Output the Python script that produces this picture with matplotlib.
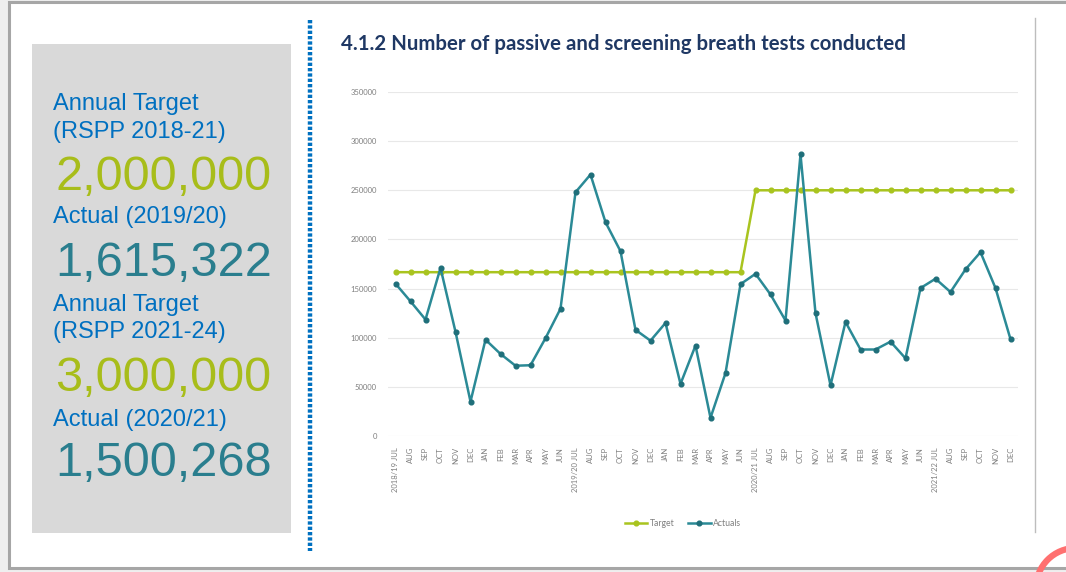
import matplotlib.pyplot as plt
from matplotlib.patches import Rectangle, Circle
from matplotlib.lines import Line2D

# ==========================
# DATA
# ==========================
fin_years = ["2018/19", "2019/20", "2020/21", "2021/22"]
months = ["JUL", "AUG", "SEP", "OCT", "NOV", "DEC",
          "JAN", "FEB", "MAR", "APR", "MAY", "JUN"]

actuals = [155000, 137000, 118500, 171000, 106000, 35000,
           98000, 83500, 71500, 72000, 99500, 129500,
           248000, 266000, 217500, 188000, 108000, 97000,
           115000, 53000, 92000, 18500, 64000, 154500,
           165000, 144000, 117500, 286500, 125000, 51500,
           116000, 88000, 88000, 96000, 79000, 150500,
           160000, 146500, 169500, 187000, 150500, 98500]
target = [166667] * 24 + [250000] * 18

y_ticks = [0, 50000, 100000, 150000, 200000, 250000, 300000, 350000]

side_labels = ["Annual Target", "(RSPP 2018-21)", "Actual (2019/20)",
               "Annual Target", "(RSPP 2021-24)", "Actual (2020/21)"]
side_values = ["2,000,000", "1,615,322", "3,000,000", "1,500,268"]

title = "4.1.2 Number of passive and screening breath tests conducted"

# labels for x axis
x_labels = []
for i in range(len(actuals)):
    m = months[i % 12]
    if i % 12 == 0:
        m = fin_years[i // 12] + " " + m
    x_labels.append(m)

# ==========================
# FIGURE
# ==========================
W, H = 1066, 572
fig = plt.figure(figsize=(W / 100, H / 100), dpi=100)
fig.patch.set_facecolor("#efefef")


def fx(px):
    return px / W


def fy(py):
    return 1 - py / H


def box(x0, y0, x1, y1, **kw):
    fig.add_artist(Rectangle((fx(x0), fy(y1)), fx(x1) - fx(x0), fy(y0) - fy(y1),
                             transform=fig.transFigure, zorder=-10, **kw))


# page frame
box(9, 2, 1075, 568, facecolor="white", edgecolor="#a6a6a6", linewidth=2.2)
# grey info box
box(32, 44, 291, 533, facecolor="#d9d9d9", edgecolor="none")
# dotted divider
fig.add_artist(Line2D([fx(310), fx(310)], [fy(20), fy(551)], transform=fig.transFigure,
                      color="#0070c0", linewidth=3.2, dashes=(0.75, 0.45),
                      solid_capstyle="butt", dash_capstyle="butt"))
# right thin divider
fig.add_artist(Line2D([fx(1035), fx(1035)], [fy(18), fy(532)], transform=fig.transFigure,
                      color="#bdbdbd", linewidth=1.0))
# red ring bottom right (circle in pixel units so it stays round)
fig.add_artist(Circle((1076, H - 588), 40, transform=None,
                      facecolor="none", edgecolor="#ff7070", linewidth=4.5, zorder=5))

# side texts (baselines in pixels)
lab_base = [110, 138, 223, 311, 338, 426]
val_base = [190, 276, 391, 476]
val_cols = ["#a8bd1a", "#2a7e8e", "#a8bd1a", "#2a7e8e"]
for lab, b in zip(side_labels, lab_base):
    fig.text(fx(53), fy(b), lab, fontsize=17, color="#0070c0", family="Liberation Sans",
             va="baseline", ha="left")
for val, b, col in zip(side_values, val_base, val_cols):
    fig.text(fx(55), fy(b), val, fontsize=35, color=col, family="Liberation Sans",
             va="baseline", ha="left")

fig.text(fx(341), fy(44), title, fontsize=14.7, fontweight="bold", color="#1f3864",
         family="Lato", va="center", ha="left")

# ==========================
# CHART
# ==========================
ax = fig.add_axes([fx(388), fy(436), fx(1018) - fx(388), fy(92) - fy(436)])
ax.set_facecolor("white")
x = list(range(len(actuals)))
ax.plot(x, target, color="#a9c41f", linewidth=1.8, marker="o", markersize=3.4, label="Target")
ax.plot(x, actuals, color="#2b8a96", linewidth=1.8, marker="o", markersize=3.4,
        markerfacecolor="#1f6f7a", markeredgecolor="#1f6f7a", label="Actuals")

ax.set_xlim(-0.5, len(actuals) - 0.5)
ax.set_ylim(0, 350000)
ax.set_yticks(y_ticks)
ax.set_yticklabels([str(v) for v in y_ticks], fontsize=5.5, color="#7f7f7f", family="Lato")
ax.set_xticks(x)
ax.set_xticklabels(x_labels, rotation=90, fontsize=5.5, color="#7f7f7f", family="Lato")
ax.tick_params(length=0, pad=8)
ax.grid(axis="y", color="#e8e8e8", linewidth=0.8)
ax.set_axisbelow(True)
for s in ax.spines.values():
    s.set_visible(False)

fig.legend(loc="center", bbox_to_anchor=(fx(683), fy(524)), ncol=2, frameon=False,
           prop={"family": "Lato", "size": 6.2}, labelcolor="#7f7f7f",
           handlelength=2.6, columnspacing=1.6, handletextpad=0.3)

fig.savefig("out.png", dpi=100, facecolor=fig.get_facecolor())
